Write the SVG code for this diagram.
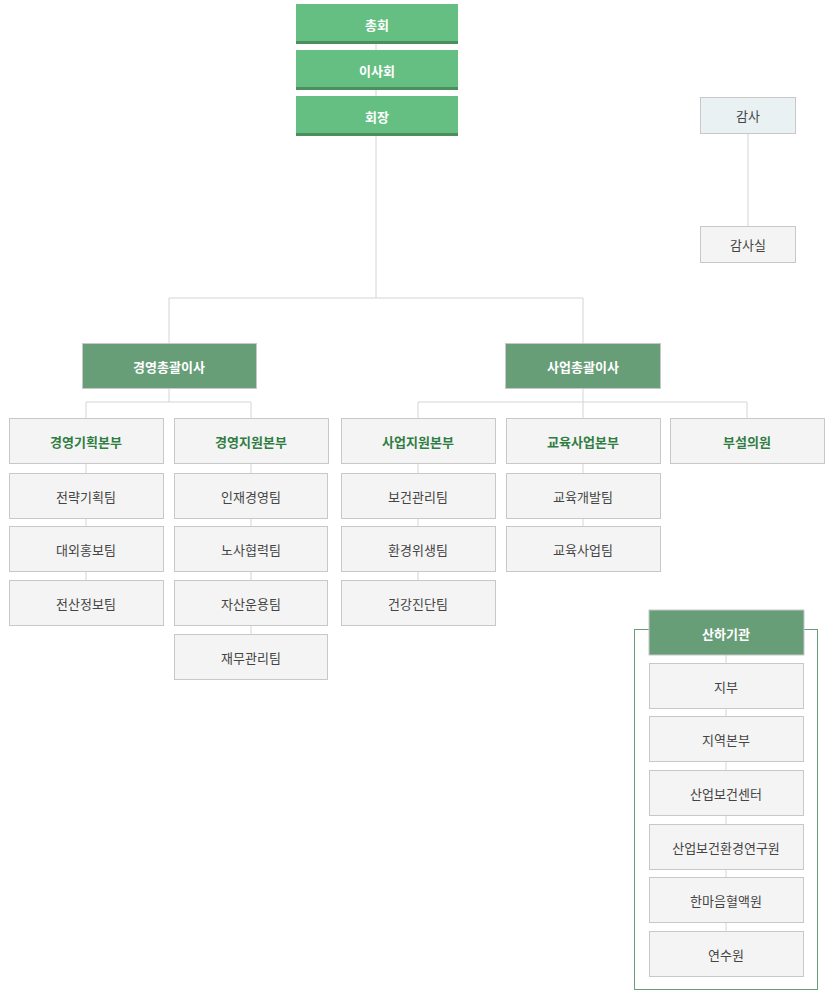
<svg xmlns="http://www.w3.org/2000/svg" width="834" height="1007" viewBox="0 0 834 1007">
<style>
text{font-family:"Noto Sans CJK KR","Noto Sans",sans-serif;font-size:13px;text-anchor:middle;dominant-baseline:central}
.top rect.b{fill:#66bf82}.top rect.s{fill:#4a8f5d}
.w{fill:#fff;font-weight:bold}
.exec rect{fill:#679e77;stroke:#c8c8c8}
.d rect{fill:#f4f4f4;stroke:#c8c8c8}
.dh{fill:#2f7d43;font-weight:bold}
.t{fill:#444}
.c{fill:none;stroke:#d4d4d4;stroke-width:1}
</style>
<g id="connectors" class="c">
<path d="M376 44V50M376 90V96M376 136V298M169 298H583M169 298V343M583 298V343"/>
<path d="M748 133V226"/>
<path d="M169 388V402M86 402H251M86 402V418M251 402V418"/>
<path d="M583 388V402M418 402H747M418 402V418M583 402V418M747 402V418"/>
<path d="M86 463V580M251 463V634M418 463V580M583 463V526M726 655V931"/>
</g>
<rect x="634.5" y="629.5" width="183" height="360" fill="none" stroke="#679e77"/>
<g id="n-chonghoe" class="top"><rect class="b" x="296" y="4" width="162" height="40"/><rect class="s" x="296" y="41" width="162" height="3"/><text class="w" x="377" y="24">총회</text></g>
<g id="n-isahoe" class="top"><rect class="b" x="296" y="50" width="162" height="40"/><rect class="s" x="296" y="87" width="162" height="3"/><text class="w" x="377" y="70">이사회</text></g>
<g id="n-hoejang" class="top"><rect class="b" x="296" y="96" width="162" height="40"/><rect class="s" x="296" y="133" width="162" height="3"/><text class="w" x="377" y="116">회장</text></g>
<g id="n-gamsa"><rect x="700.5" y="97.5" width="95" height="36" fill="#e9f1f3" stroke="#c8c8c8"/><text class="t" x="748" y="115">감사</text></g>
<g id="n-gamsasil" class="d"><rect x="700.5" y="226.5" width="95" height="36"/><text class="t" x="748" y="244">감사실</text></g>
<g id="n-exec1" class="exec"><rect x="82.5" y="343.5" width="174" height="45"/><text class="w" x="169" y="366">경영총괄이사</text></g>
<g id="n-exec2" class="exec"><rect x="505.5" y="343.5" width="155" height="45"/><text class="w" x="583" y="366">사업총괄이사</text></g>
<g id="n-d1" class="d"><rect x="9.5" y="418.5" width="154" height="45"/><text class="dh" x="86" y="441">경영기획본부</text></g>
<g id="n-d2" class="d"><rect x="174.5" y="418.5" width="154" height="45"/><text class="dh" x="251" y="441">경영지원본부</text></g>
<g id="n-d3" class="d"><rect x="341.5" y="418.5" width="154" height="45"/><text class="dh" x="418" y="441">사업지원본부</text></g>
<g id="n-d4" class="d"><rect x="506.5" y="418.5" width="154" height="45"/><text class="dh" x="583" y="441">교육사업본부</text></g>
<g id="n-d5" class="d"><rect x="670.5" y="418.5" width="154" height="45"/><text class="dh" x="747" y="441">부설의원</text></g>
<g id="n-t11" class="d"><rect x="9.5" y="473.5" width="154" height="45"/><text class="t" x="86" y="496">전략기획팀</text></g>
<g id="n-t12" class="d"><rect x="9.5" y="526.5" width="154" height="45"/><text class="t" x="86" y="549">대외홍보팀</text></g>
<g id="n-t13" class="d"><rect x="9.5" y="580.5" width="154" height="45"/><text class="t" x="86" y="603">전산정보팀</text></g>
<g id="n-t21" class="d"><rect x="174.5" y="473.5" width="153" height="45"/><text class="t" x="251" y="496">인재경영팀</text></g>
<g id="n-t22" class="d"><rect x="174.5" y="526.5" width="153" height="45"/><text class="t" x="251" y="549">노사협력팀</text></g>
<g id="n-t23" class="d"><rect x="174.5" y="580.5" width="153" height="45"/><text class="t" x="251" y="603">자산운용팀</text></g>
<g id="n-t24" class="d"><rect x="174.5" y="634.5" width="153" height="45"/><text class="t" x="251" y="657">재무관리팀</text></g>
<g id="n-t31" class="d"><rect x="341.5" y="473.5" width="154" height="45"/><text class="t" x="418" y="496">보건관리팀</text></g>
<g id="n-t32" class="d"><rect x="341.5" y="526.5" width="154" height="45"/><text class="t" x="418" y="549">환경위생팀</text></g>
<g id="n-t33" class="d"><rect x="341.5" y="580.5" width="154" height="45"/><text class="t" x="418" y="603">건강진단팀</text></g>
<g id="n-t41" class="d"><rect x="506.5" y="473.5" width="154" height="45"/><text class="t" x="583" y="496">교육개발팀</text></g>
<g id="n-t42" class="d"><rect x="506.5" y="526.5" width="154" height="45"/><text class="t" x="583" y="549">교육사업팀</text></g>
<g id="n-sub" class="exec"><rect x="649" y="610" width="155" height="45" stroke="none"/><text class="w" x="726" y="633">산하기관</text></g>
<g id="n-s1" class="d"><rect x="649.5" y="663.5" width="154" height="45"/><text class="t" x="726" y="686">지부</text></g>
<g id="n-s2" class="d"><rect x="649.5" y="716.5" width="154" height="45"/><text class="t" x="726" y="739">지역본부</text></g>
<g id="n-s3" class="d"><rect x="649.5" y="770.5" width="154" height="45"/><text class="t" x="726" y="793">산업보건센터</text></g>
<g id="n-s4" class="d"><rect x="649.5" y="824.5" width="154" height="45"/><text class="t" x="726" y="847">산업보건환경연구원</text></g>
<g id="n-s5" class="d"><rect x="649.5" y="877.5" width="154" height="45"/><text class="t" x="726" y="900">한마음혈액원</text></g>
<g id="n-s6" class="d"><rect x="649.5" y="931.5" width="154" height="45"/><text class="t" x="726" y="954">연수원</text></g>
</svg>
